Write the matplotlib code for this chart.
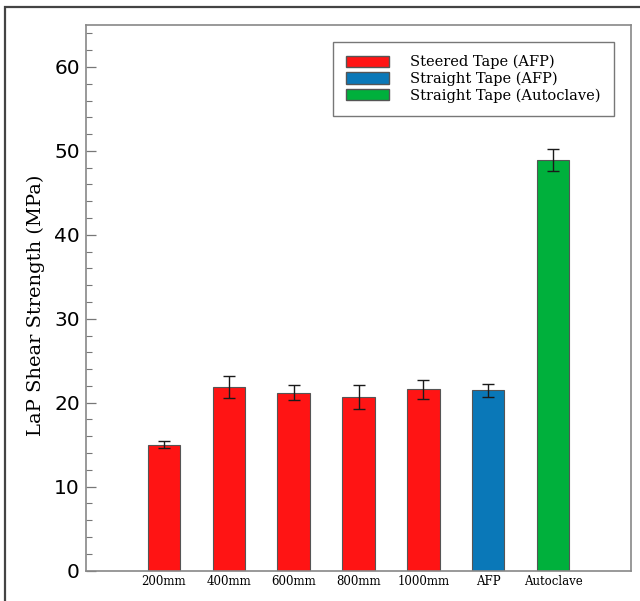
import matplotlib
matplotlib.use("Agg")
import matplotlib.pyplot as plt
from matplotlib.patches import Rectangle, Patch
from matplotlib.ticker import MultipleLocator

categories = ["200mm", "400mm", "600mm", "800mm", "1000mm", "AFP", "Autoclave"]
strength = [15.0, 21.9, 21.2, 20.7, 21.6, 21.45, 48.9]
strength_err = [0.4, 1.3, 0.85, 1.4, 1.15, 0.8, 1.3]
groups = ["steered", "steered", "steered", "steered", "steered", "straight_afp", "autoclave"]

group_colors = {"steered": "#ff1414", "straight_afp": "#0a78b8", "autoclave": "#00b03c"}
group_labels = {"steered": "Steered Tape (AFP)",
                "straight_afp": "Straight Tape (AFP)",
                "autoclave": "Straight Tape (Autoclave)"}

plt.rcParams["font.family"] = "DejaVu Serif"

fig = plt.figure(figsize=(6.4, 6.01), dpi=100)
ax = fig.add_axes([86 / 640, 1 - 570.5 / 601, (631 - 86) / 640, (570.5 - 25) / 601])

# outer frame around the figure
fig.patches.append(Rectangle((5 / 640, -0.05), 1.2, 1 - 7 / 601 + 0.05,
                             transform=fig.transFigure, fill=False,
                             edgecolor="#444444", linewidth=1.6, zorder=0))

x = list(range(len(categories)))
colors = [group_colors[g] for g in groups]
ax.bar(x, strength, width=0.5, color=colors, edgecolor="#555555", linewidth=0.8,
       yerr=strength_err, error_kw=dict(ecolor="#1a1a1a", elinewidth=1.0, capsize=4, capthick=1.0))

ax.set_xlim(-1.2, 7.2)
ax.set_ylim(0, 65)
ax.set_xticks(x)
ax.set_xticklabels(categories, fontsize=8.5)
ax.yaxis.set_major_locator(MultipleLocator(10))
ax.yaxis.set_minor_locator(MultipleLocator(2))
ax.tick_params(axis="y", which="major", direction="in", length=7, width=0.9,
               color="#777777", labelsize=14.5, pad=4.5)
ax.tick_params(axis="y", which="minor", direction="in", length=4, width=0.8, color="#777777")
ax.tick_params(axis="x", which="both", length=0, pad=3)
for lbl in ax.get_yticklabels():
    lbl.set_family("DejaVu Sans")
for s in ax.spines.values():
    s.set_color("#888888")
    s.set_linewidth(1.2)

ax.set_ylabel("LaP Shear Strength (MPa)", fontsize=14)
ax.yaxis.set_label_coords(-0.075, 0.487)

handles = [Patch(facecolor=group_colors[k], edgecolor="#555555", label=group_labels[k])
           for k in ["steered", "straight_afp", "autoclave"]]
leg = ax.legend(handles=handles, loc="upper right", fontsize=10.5, handlelength=2.9,
                handleheight=0.85, labelspacing=0.15, handletextpad=1.5,
                borderpad=0.9, borderaxespad=0, fancybox=False, framealpha=1,
                bbox_to_anchor=(0.969, 0.969))
leg.get_frame().set_edgecolor("#777777")
leg.get_frame().set_linewidth(1.0)

fig.savefig("out.png", dpi=100)
